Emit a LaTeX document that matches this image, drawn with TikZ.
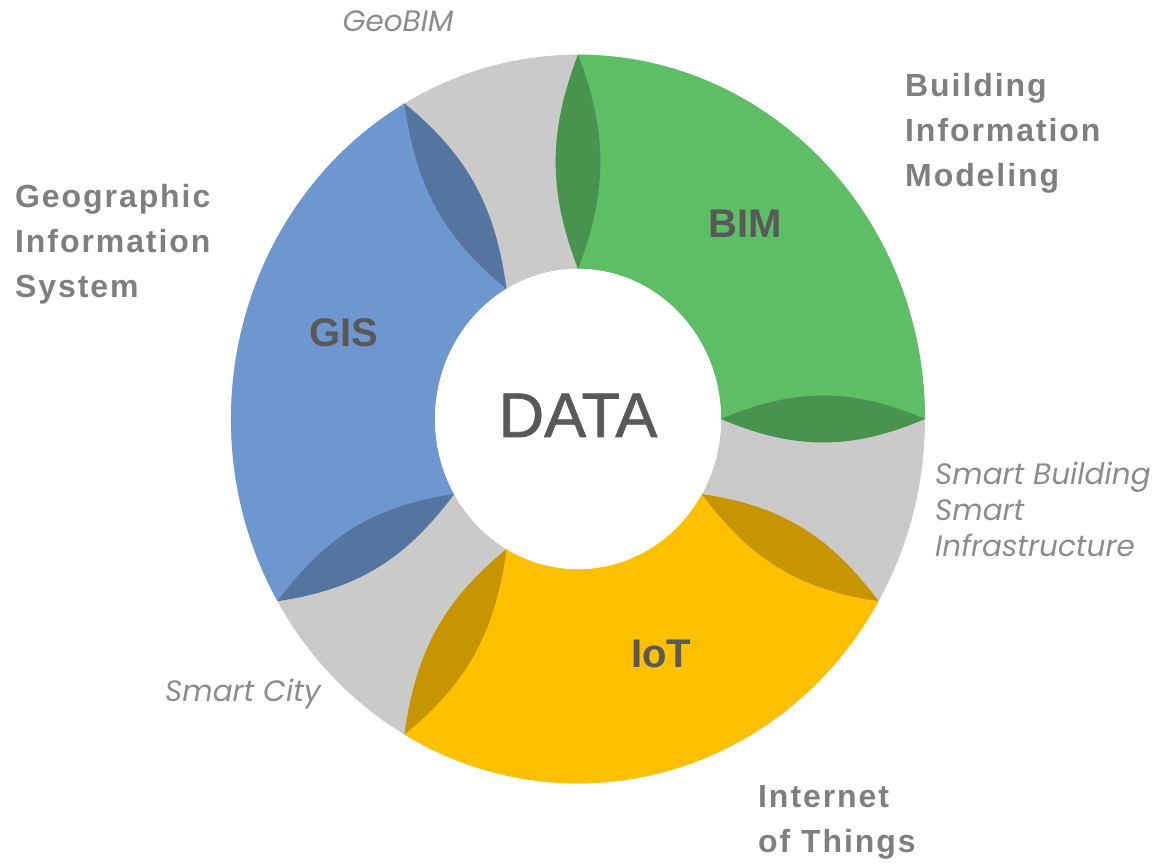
\documentclass[tikz,border=0pt]{standalone}
\usepackage{fontspec}
\setmainfont{Liberation Sans}
\newfontfamily\geofont{Poppins}
\definecolor{bimgreen}{HTML}{5DBE66}
\definecolor{gisblue}{HTML}{6E97CF}
\definecolor{iotyellow}{HTML}{FFC000}
\definecolor{ringgray}{HTML}{CACACA}
\definecolor{labelgray}{HTML}{7F7F7F}
\definecolor{softgray}{HTML}{8C8C8C}
\definecolor{darktext}{HTML}{595959}
\tikzset{
  seglabel/.style = {text = darktext, font = \fontsize{40}{48}\selectfont\bfseries, inner sep = 0},
  outlabel/.style = {text = labelgray, align = left, inner sep = 0,
    font = \fontsize{32}{45}\selectfont\bfseries\addfontfeature{LetterSpace=6}},
  sidelabel/.style = {text = softgray, align = left, inner sep = 0,
    font = \geofont\fontsize{29.5}{36}\selectfont\itshape}
}
\begin{document}
\begin{tikzpicture}[x = 1pt, y = 1pt]
  \useasboundingbox (0, 0) rectangle (1166, 864);
  % ring
  \begin{scope}[shift = {(578, 445)}, yscale = 1.05]
    \fill[ringgray, even odd rule] (0, 0) circle[radius = 347] (0, 0) circle[radius = 143];
    \foreach \a/\b/\c in {0/90/bimgreen, 120/210/gisblue, 240/330/iotyellow} {
      \fill[\c] (\a:143) to[bend right = 22] (\a:347)
        arc[start angle = \a, end angle = \b, radius = 347]
        to[bend right = 22] (\b:143)
        arc[start angle = \b, end angle = \a, radius = 143] -- cycle;
      \fill[black, opacity = 0.22] (\a:143) to[bend right = 22] (\a:347) to[bend right = 22] (\a:143) -- cycle;
      \fill[black, opacity = 0.22] (\b:347) to[bend right = 22] (\b:143) to[bend right = 22] (\b:347) -- cycle;
    }
    \fill[white] (0, 0) circle[radius = 143];
  \end{scope}
  \node[text = darktext, font = \fontsize{63}{70}\selectfont\addfontfeature{FakeBold=1.2}, anchor = base] (data) at (578, 427) {DATA};
  \node[seglabel, anchor = base] (bim) at (745, 626) {BIM};
  \node[seglabel, anchor = base] (gis) at (344, 517) {GIS};
  \node[seglabel, anchor = base] (iot) at (661, 196) {IoT};
  % multi-line labels sit on their last line
  \node[outlabel, anchor = base west] (bimtxt) at (905, 677) {Building\\Information\\Modeling};
  \node[outlabel, anchor = base west] (gistxt) at (15, 566) {Geographic\\Information\\System};
  \node[outlabel, anchor = base west] (iottxt) at (758, 12) {Internet\\of Things};
  \node[sidelabel, anchor = base] (geobim) at (398, 832) {GeoBIM};
  \node[sidelabel, anchor = base west] (smartbld) at (935, 307) {Smart Building\\Smart\\Infrastructure};
  \node[sidelabel, anchor = base west] (smartcity) at (165, 162) {Smart City};
\end{tikzpicture}
\end{document}
